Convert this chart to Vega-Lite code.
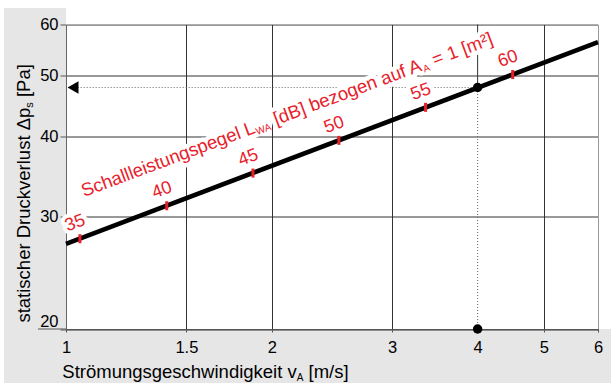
{
  "$schema": "https://vega.github.io/schema/vega-lite/v6.json",
  "width": 532,
  "height": 304.5,
  "autosize": {"type": "none"},
  "padding": {"left": 66, "top": 24.5, "right": 13, "bottom": 54},
  "background": "#e6e6e6",
  "config": {
    "view": {"fill": "white", "stroke": null},
    "font": "Liberation Sans",
    "text": {"font": "Liberation Sans"},
    "axis": {"title": null, "labelFont": "Liberation Sans", "labelFontSize": 16.5, "labelColor": "black", "labelFlush": false, "labelOverlap": false, "grid": true, "gridColor": "#333", "gridWidth": 1, "tickWidth": 1, "tickColor": "#555", "domainWidth": 1},
    "axisX": {"domainColor": "#555", "tickSize": 3, "labelPadding": 7.5},
    "axisY": {"domainColor": "#666", "tickSize": 6, "labelPadding": 2}
  },
  "layer": [
    {
      "data": {"values": [
        {"v": 1, "v2": 6.3, "p": 60.05, "p2": 67},
        {"v": 0.79, "v2": 1, "p": 63.7, "p2": 67},
        {"v": 0.79, "v2": 0.8115, "p": 16, "p2": 67},
        {"v": 6.01, "v2": 6.3, "p": 20, "p2": 67}
      ]},
      "mark": {"type": "rect", "fill": "white", "strokeWidth": 0},
      "encoding": {
        "x": {"field": "v", "type": "quantitative", "scale": {"type": "log", "domain": [1, 6], "nice": false}},
        "x2": {"field": "v2"},
        "y": {"field": "p", "type": "quantitative", "scale": {"type": "log", "domain": [20, 60], "nice": false}},
        "y2": {"field": "p2"}
      }
    },
    {
      "data": {"values": [{"v": 0.91, "v2": 1, "p": 20}]},
      "mark": {"type": "rule", "color": "#555", "strokeWidth": 1},
      "encoding": {
        "x": {"field": "v", "type": "quantitative", "scale": {"type": "log", "domain": [1, 6], "nice": false}},
        "x2": {"field": "v2"},
        "y": {"field": "p", "type": "quantitative", "scale": {"type": "log", "domain": [20, 60], "nice": false}}
      }
    },
    {
      "data": {"values": [{"v": 4, "p": 47.8, "p2": 60}]},
      "mark": {"type": "rule", "color": "#333", "strokeWidth": 1},
      "encoding": {
        "x": {"field": "v", "type": "quantitative", "scale": {"type": "log", "domain": [1, 6], "nice": false}},
        "y": {"field": "p", "type": "quantitative", "scale": {"type": "log", "domain": [20, 60], "nice": false}},
        "y2": {"field": "p2"}
      }
    },
    {
      "data": {"values": [{"v": 4, "p": 20, "p2": 47.8}]},
      "mark": {"type": "rule", "color": "#666", "strokeWidth": 1, "strokeDash": [1, 2]},
      "encoding": {
        "x": {"field": "v", "type": "quantitative", "scale": {"type": "log", "domain": [1, 6], "nice": false}},
        "y": {"field": "p", "type": "quantitative", "scale": {"type": "log", "domain": [20, 60], "nice": false}},
        "y2": {"field": "p2"}
      }
    },
    {
      "data": {"values": [{"v": 1.04, "v2": 4, "p": 47.8}]},
      "mark": {"type": "rule", "color": "#666", "strokeWidth": 1, "strokeDash": [1, 2]},
      "encoding": {
        "x": {"field": "v", "type": "quantitative", "scale": {"type": "log", "domain": [1, 6], "nice": false}},
        "x2": {"field": "v2"},
        "y": {"field": "p", "type": "quantitative", "scale": {"type": "log", "domain": [20, 60], "nice": false}}
      }
    },
    {
      "data": {"values": [
        {"v": 1.0625, "p": 32.19, "t": "Schallleistungspegel L", "k": 0},
        {"v": 1.0625, "p": 32.19, "t": "[dB] bezogen auf A", "k": 2},
        {"v": 1.0625, "p": 32.19, "t": "= 1 [m²]", "k": 4}
      ]},
      "layer": [
        {"transform": [{"filter": "datum.k == 0"}], "mark": {"type": "text", "align": "left", "baseline": "alphabetic", "angle": -20.5, "fontSize": 18.5, "fill": "white", "stroke": "white", "strokeWidth": 9, "strokeJoin": "round", "dx": 0}},
        {"transform": [{"filter": "datum.k == 2"}], "mark": {"type": "text", "align": "left", "baseline": "alphabetic", "angle": -20.5, "fontSize": 18.5, "fill": "white", "stroke": "white", "strokeWidth": 9, "strokeJoin": "round", "dx": 205.3}},
        {"transform": [{"filter": "datum.k == 4"}], "mark": {"type": "text", "align": "left", "baseline": "alphabetic", "angle": -20.5, "fontSize": 18.5, "fill": "white", "stroke": "white", "strokeWidth": 9, "strokeJoin": "round", "dx": 374.5}}
      ],
      "encoding": {
        "x": {"field": "v", "type": "quantitative", "scale": {"type": "log", "domain": [1, 6], "nice": false}},
        "y": {"field": "p", "type": "quantitative", "scale": {"type": "log", "domain": [20, 60], "nice": false}},
        "text": {"field": "t"}
      }
    },
    {
      "data": {"values": [
        {"L": 35, "v": 1.048, "p": 27.7},
        {"L": 40, "v": 1.404, "p": 31.2},
        {"L": 45, "v": 1.877, "p": 35.1},
        {"L": 50, "v": 2.507, "p": 39.5},
        {"L": 55, "v": 3.357, "p": 44.5},
        {"L": 60, "v": 4.502, "p": 50.1}
      ]},
      "mark": {"type": "text", "align": "center", "baseline": "middle", "angle": -20.5, "dx": 1, "dy": -16, "fontSize": 18, "fill": "white", "stroke": "white", "strokeWidth": 8, "strokeJoin": "round"},
      "encoding": {
        "x": {"field": "v", "type": "quantitative", "scale": {"type": "log", "domain": [1, 6], "nice": false}},
        "y": {"field": "p", "type": "quantitative", "scale": {"type": "log", "domain": [20, 60], "nice": false}},
        "text": {"field": "L"}
      }
    },
    {
      "data": {"values": [{"v": 1, "p": 27.2}, {"v": 6, "p": 56.3}]},
      "mark": {"type": "line", "color": "black", "strokeWidth": 4.5, "strokeCap": "butt"},
      "encoding": {
        "x": {
          "field": "v", "type": "quantitative",
          "scale": {"type": "log", "domain": [1, 6], "nice": false},
          "axis": {
            "title": null, "values": [1, 1.5, 2, 3, 4, 5, 6], "format": "~g",
            "gridOpacity": {"condition": {"test": "datum.value == 4", "value": 0}, "value": 1}
          }
        },
        "y": {
          "field": "p", "type": "quantitative",
          "scale": {"type": "log", "domain": [20, 60], "nice": false},
          "axis": {
            "title": null, "values": [20, 30, 40, 50, 60], "format": "~g",
            "labelBaseline": {"condition": {"test": "datum.value == 20", "value": "bottom"}, "value": "middle"}
          }
        }
      }
    },
    {
      "data": {"values": [
        {"L": 35, "v": 1.048, "p": 27.7},
        {"L": 40, "v": 1.404, "p": 31.2},
        {"L": 45, "v": 1.877, "p": 35.1},
        {"L": 50, "v": 2.507, "p": 39.5},
        {"L": 55, "v": 3.357, "p": 44.5},
        {"L": 60, "v": 4.502, "p": 50.1}
      ]},
      "layer": [
        {"mark": {"type": "tick", "orient": "vertical", "color": "#e8202a", "size": 9, "thickness": 3, "opacity": 1}},
        {"mark": {"type": "text", "align": "center", "baseline": "middle", "angle": -20.5, "dx": 1, "dy": -16, "fontSize": 18, "fill": "#e8202a"}, "encoding": {"text": {"field": "L"}}}
      ],
      "encoding": {
        "x": {"field": "v", "type": "quantitative", "scale": {"type": "log", "domain": [1, 6], "nice": false}},
        "y": {"field": "p", "type": "quantitative", "scale": {"type": "log", "domain": [20, 60], "nice": false}}
      }
    },
    {
      "data": {"values": [
        {"v": 1.0625, "p": 32.19, "t": "Schallleistungspegel L", "k": 0},
        {"v": 1.0625, "p": 32.19, "t": "WA", "k": 1},
        {"v": 1.0625, "p": 32.19, "t": "[dB] bezogen auf A", "k": 2},
        {"v": 1.0625, "p": 32.19, "t": "A", "k": 3},
        {"v": 1.0625, "p": 32.19, "t": "= 1 [m²]", "k": 4}
      ]},
      "layer": [
        {"transform": [{"filter": "datum.k == 0"}], "mark": {"type": "text", "align": "left", "baseline": "alphabetic", "angle": -20.5, "fontSize": 18.5, "fill": "#e8202a", "dx": 0}},
        {"transform": [{"filter": "datum.k == 1"}], "mark": {"type": "text", "align": "left", "baseline": "alphabetic", "angle": -20.5, "fontSize": 10, "fill": "#e8202a", "dx": 184.1, "dy": 2.5}},
        {"transform": [{"filter": "datum.k == 2"}], "mark": {"type": "text", "align": "left", "baseline": "alphabetic", "angle": -20.5, "fontSize": 18.5, "fill": "#e8202a", "dx": 205.3}},
        {"transform": [{"filter": "datum.k == 3"}], "mark": {"type": "text", "align": "left", "baseline": "alphabetic", "angle": -20.5, "fontSize": 10, "fill": "#e8202a", "dx": 362.7, "dy": 2.5}},
        {"transform": [{"filter": "datum.k == 4"}], "mark": {"type": "text", "align": "left", "baseline": "alphabetic", "angle": -20.5, "fontSize": 18.5, "fill": "#e8202a", "dx": 374.5}}
      ],
      "encoding": {
        "x": {"field": "v", "type": "quantitative", "scale": {"type": "log", "domain": [1, 6], "nice": false}},
        "y": {"field": "p", "type": "quantitative", "scale": {"type": "log", "domain": [20, 60], "nice": false}},
        "text": {"field": "t"}
      }
    },
    {
      "data": {"values": [{"v": 4, "p": 47.8}, {"v": 4, "p": 20}]},
      "mark": {"type": "point", "shape": "circle", "filled": true, "color": "black", "size": 90, "opacity": 1},
      "encoding": {
        "x": {"field": "v", "type": "quantitative", "scale": {"type": "log", "domain": [1, 6], "nice": false}},
        "y": {"field": "p", "type": "quantitative", "scale": {"type": "log", "domain": [20, 60], "nice": false}}
      }
    },
    {
      "data": {"values": [{"v": 1.024, "p": 47.8}]},
      "mark": {"type": "point", "shape": "triangle-left", "filled": true, "color": "black", "size": 160, "opacity": 1},
      "encoding": {
        "x": {"field": "v", "type": "quantitative", "scale": {"type": "log", "domain": [1, 6], "nice": false}},
        "y": {"field": "p", "type": "quantitative", "scale": {"type": "log", "domain": [20, 60], "nice": false}}
      }
    },
    {
      "data": {"values": [
        {"v": 0.9876, "p": 16.78, "t": "Strömungsgeschwindigkeit v", "k": 0},
        {"v": 0.9876, "p": 16.78, "t": "A", "k": 1},
        {"v": 0.9876, "p": 16.78, "t": "[m/s]", "k": 2},
        {"v": 0.8859, "p": 20.47, "t": "statischer Druckverlust Δp", "k": 3},
        {"v": 0.8859, "p": 20.47, "t": "s", "k": 4},
        {"v": 0.8859, "p": 20.47, "t": "[Pa]", "k": 5}
      ]},
      "layer": [
        {"transform": [{"filter": "datum.k == 0"}], "mark": {"type": "text", "align": "left", "baseline": "alphabetic", "fontSize": 18.5, "fill": "black"}},
        {"transform": [{"filter": "datum.k == 1"}], "mark": {"type": "text", "align": "left", "baseline": "alphabetic", "fontSize": 10, "fill": "black", "dx": 234.4, "dy": 3}},
        {"transform": [{"filter": "datum.k == 2"}], "mark": {"type": "text", "align": "left", "baseline": "alphabetic", "fontSize": 18.5, "fill": "black", "dx": 246.2}},
        {"transform": [{"filter": "datum.k == 3"}], "mark": {"type": "text", "align": "left", "baseline": "alphabetic", "angle": -90, "fontSize": 18.5, "fill": "black"}},
        {"transform": [{"filter": "datum.k == 4"}], "mark": {"type": "text", "align": "left", "baseline": "alphabetic", "angle": -90, "fontSize": 11, "fill": "black", "dx": 214.9, "dy": 3}},
        {"transform": [{"filter": "datum.k == 5"}], "mark": {"type": "text", "align": "left", "baseline": "alphabetic", "angle": -90, "fontSize": 18.5, "fill": "black", "dx": 225.5}}
      ],
      "encoding": {
        "x": {"field": "v", "type": "quantitative", "scale": {"type": "log", "domain": [1, 6], "nice": false}},
        "y": {"field": "p", "type": "quantitative", "scale": {"type": "log", "domain": [20, 60], "nice": false}},
        "text": {"field": "t"}
      }
    }
  ]
}
